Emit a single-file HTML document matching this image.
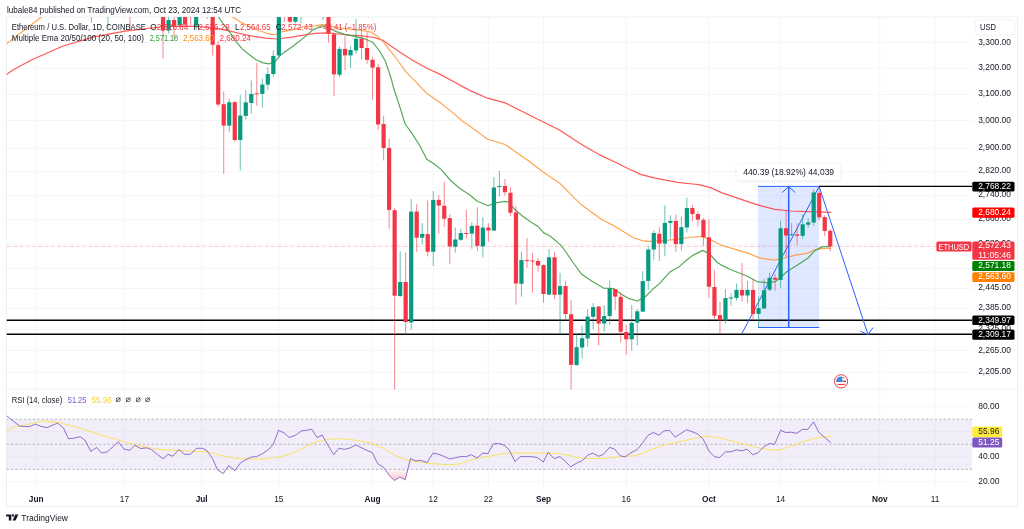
<!DOCTYPE html><html><head><meta charset="utf-8"><title>ETHUSD chart</title><style>html,body{margin:0;padding:0;background:#fff;width:1024px;height:529px;overflow:hidden;position:relative}</style></head><body><svg width="1024" height="529" viewBox="0 0 1024 529" style="position:absolute;left:0;top:0">
<defs>
<clipPath id="mainclip"><rect x="6.5" y="17.0" width="965.5" height="372.2"/></clipPath>
<clipPath id="rsiclip"><rect x="6.5" y="389.2" width="965.5" height="99.80000000000001"/></clipPath>
<linearGradient id="osg" gradientUnits="userSpaceOnUse" x1="0" y1="469.4" x2="0" y2="507"><stop offset="0" stop-color="#f23645" stop-opacity="0.05"/><stop offset="1" stop-color="#f23645" stop-opacity="0.8"/></linearGradient>
<filter id="sh" x="-10%" y="-30%" width="120%" height="170%"><feDropShadow dx="0" dy="0.5" stdDeviation="0.8" flood-color="#000" flood-opacity="0.18"/></filter>
</defs>
<text x="6.9" y="12.6" font-family="'Liberation Sans', Arial, sans-serif" font-size="8.6" textLength="234.2" lengthAdjust="spacingAndGlyphs" fill="#131722">lubale84 published on TradingView.com, Oct 23, 2024 12:54 UTC</text>
<rect x="6.5" y="17.0" width="1011.0" height="489.5" fill="#fff" stroke="#edeff2" stroke-width="1"/>
<line x1="6.5" y1="42.50" x2="972.0" y2="42.50" stroke="#f6f6f8" stroke-width="1"/>
<line x1="6.5" y1="68.50" x2="972.0" y2="68.50" stroke="#f6f6f8" stroke-width="1"/>
<line x1="6.5" y1="94.50" x2="972.0" y2="94.50" stroke="#f6f6f8" stroke-width="1"/>
<line x1="6.5" y1="120.50" x2="972.0" y2="120.50" stroke="#f6f6f8" stroke-width="1"/>
<line x1="6.5" y1="148.50" x2="972.0" y2="148.50" stroke="#f6f6f8" stroke-width="1"/>
<line x1="6.5" y1="171.50" x2="972.0" y2="171.50" stroke="#f6f6f8" stroke-width="1"/>
<line x1="6.5" y1="195.50" x2="972.0" y2="195.50" stroke="#f6f6f8" stroke-width="1"/>
<line x1="6.5" y1="219.50" x2="972.0" y2="219.50" stroke="#f6f6f8" stroke-width="1"/>
<line x1="6.5" y1="244.50" x2="972.0" y2="244.50" stroke="#f6f6f8" stroke-width="1"/>
<line x1="6.5" y1="268.50" x2="972.0" y2="268.50" stroke="#f6f6f8" stroke-width="1"/>
<line x1="6.5" y1="288.50" x2="972.0" y2="288.50" stroke="#f6f6f8" stroke-width="1"/>
<line x1="6.5" y1="308.50" x2="972.0" y2="308.50" stroke="#f6f6f8" stroke-width="1"/>
<line x1="6.5" y1="329.50" x2="972.0" y2="329.50" stroke="#f6f6f8" stroke-width="1"/>
<line x1="6.5" y1="350.50" x2="972.0" y2="350.50" stroke="#f6f6f8" stroke-width="1"/>
<line x1="6.5" y1="372.50" x2="972.0" y2="372.50" stroke="#f6f6f8" stroke-width="1"/>
<line x1="6.5" y1="406.65" x2="972.0" y2="406.65" stroke="#f6f6f8" stroke-width="1"/>
<line x1="6.5" y1="431.75" x2="972.0" y2="431.75" stroke="#f6f6f8" stroke-width="1"/>
<line x1="6.5" y1="456.85" x2="972.0" y2="456.85" stroke="#f6f6f8" stroke-width="1"/>
<line x1="6.5" y1="481.95" x2="972.0" y2="481.95" stroke="#f6f6f8" stroke-width="1"/>
<line x1="36.25" y1="17.0" x2="36.25" y2="489.0" stroke="#f6f6f8" stroke-width="1"/>
<line x1="124.47" y1="17.0" x2="124.47" y2="489.0" stroke="#f6f6f8" stroke-width="1"/>
<line x1="201.66" y1="17.0" x2="201.66" y2="489.0" stroke="#f6f6f8" stroke-width="1"/>
<line x1="278.86" y1="17.0" x2="278.86" y2="489.0" stroke="#f6f6f8" stroke-width="1"/>
<line x1="372.59" y1="17.0" x2="372.59" y2="489.0" stroke="#f6f6f8" stroke-width="1"/>
<line x1="433.24" y1="17.0" x2="433.24" y2="489.0" stroke="#f6f6f8" stroke-width="1"/>
<line x1="488.38" y1="17.0" x2="488.38" y2="489.0" stroke="#f6f6f8" stroke-width="1"/>
<line x1="543.52" y1="17.0" x2="543.52" y2="489.0" stroke="#f6f6f8" stroke-width="1"/>
<line x1="626.23" y1="17.0" x2="626.23" y2="489.0" stroke="#f6f6f8" stroke-width="1"/>
<line x1="708.93" y1="17.0" x2="708.93" y2="489.0" stroke="#f6f6f8" stroke-width="1"/>
<line x1="780.61" y1="17.0" x2="780.61" y2="489.0" stroke="#f6f6f8" stroke-width="1"/>
<line x1="879.86" y1="17.0" x2="879.86" y2="489.0" stroke="#f6f6f8" stroke-width="1"/>
<line x1="935.00" y1="17.0" x2="935.00" y2="489.0" stroke="#f6f6f8" stroke-width="1"/>
<line x1="6.5" y1="389.2" x2="1017.5" y2="389.2" stroke="#edeff2" stroke-width="1"/>
<g clip-path="url(#mainclip)">
<rect x="758" y="186.4" width="61.1" height="141.1" fill="#2962ff" fill-opacity="0.15"/>
<line x1="819" y1="186.4" x2="972" y2="186.4" stroke="#000" stroke-width="1.4"/>
<line x1="6.5" y1="320.2" x2="972" y2="320.2" stroke="#000" stroke-width="1.5"/>
<line x1="6.5" y1="334.2" x2="972" y2="334.2" stroke="#000" stroke-width="1.5"/>
<polyline points="6.2,74.8 12.5,70.2 31.3,60.0 62.5,46.3 93.8,36.9 125.0,31.1 160.0,27.0 171.7,26.4 183.4,26.1 195.2,26.4 206.9,27.3 218.6,28.7 230.3,31.1 242.0,34.0 253.8,36.3 265.5,38.1 277.2,39.0 291.7,37.2 303.4,35.2 315.2,33.4 326.9,32.8 338.6,34.0 350.3,35.2 362.0,35.8 373.8,37.5 383.1,40.4 391.3,46.3 400.0,52.2 412.2,60.0 426.8,68.2 439.7,74.1 453.8,81.7 465.5,88.1 470.0,90.6 487.6,98.2 505.2,102.9 516.9,108.8 540.3,120.5 559.1,129.8 575.5,140.4 585.0,146.4 599.1,154.6 614.3,161.7 629.5,169.3 641.3,174.6 655.3,178.1 677.6,182.3 692.8,184.0 698.7,184.7 710.4,187.6 722.1,192.9 736.2,197.6 751.4,202.9 763.1,206.4 774.8,209.3 791.0,211.0 808.6,211.6 830.9,212.4" fill="none" stroke="#ff3b3b" stroke-width="1.2" stroke-opacity="0.85" stroke-linejoin="round" stroke-linecap="round"/>
<polyline points="6.2,44.0 41.4,17.0 50.0,10.0" fill="none" stroke="#ff9a3c" stroke-width="1.2" stroke-opacity="0.9" stroke-linejoin="round" stroke-linecap="round"/>
<polyline points="228.0,10.0 232.7,17.0 242.0,22.9 253.8,28.7 265.5,32.8 272.5,34.6 277.2,34.0 280.0,32.2 291.7,29.9 303.4,27.0 315.2,25.8 322.2,24.6 329.2,25.8 340.9,28.1 352.7,29.3 362.0,30.5 371.4,32.2 377.3,36.3 383.1,41.6 391.3,52.2 397.5,60.0 405.7,71.7 415.1,81.1 426.8,93.4 439.7,102.2 451.4,111.6 463.1,121.5 470.0,126.3 487.6,139.2 505.2,144.5 515.7,152.0 527.4,160.0 542.7,171.7 560.0,183.5 570.5,194.1 581.1,204.6 591.6,212.2 602.2,219.8 612.7,225.1 623.3,231.6 633.8,238.0 644.4,241.2 653.4,241.3 665.2,240.4 676.9,239.3 688.6,237.5 701.7,236.4 712.3,240.5 721.6,245.2 736.9,249.9 748.6,253.4 760.3,258.1 774.4,260.2 783.8,258.1 795.5,255.2 806.9,253.4 815.1,249.8 822.1,248.7 830.3,248.1" fill="none" stroke="#ff9a3c" stroke-width="1.2" stroke-opacity="0.9" stroke-linejoin="round" stroke-linecap="round"/>
<polyline points="214.0,10.0 218.6,17.0 223.3,24.0 229.1,31.1 235.0,40.4 242.0,48.6 249.1,54.5 256.1,59.8 263.1,62.9 269.0,63.9 274.8,62.1 280.0,55.5 295.2,44.5 303.4,38.1 312.8,29.9 322.2,25.8 330.4,28.7 336.3,31.6 345.6,34.6 355.0,36.3 364.4,38.7 372.6,42.2 379.6,51.0 385.5,61.5 391.3,79.0 394.0,89.3 399.8,106.9 405.1,124.0 411.6,132.9 419.8,145.8 426.8,159.3 435.0,164.5 442.0,170.4 450.2,180.0 459.6,188.2 470.2,195.2 477.0,201.0 488.2,205.7 495.8,202.8 504.6,201.3 508.7,202.2 514.5,209.2 522.7,216.3 530.9,222.0 538.0,226.4 543.8,232.9 549.7,235.8 560.2,244.6 564.9,250.5 572.0,261.0 581.3,273.9 591.7,281.1 603.4,288.1 614.0,288.7 621.0,294.0 629.2,298.7 637.4,301.0 644.5,297.5 652.7,289.3 659.7,283.4 670.2,271.7 679.6,266.4 686.6,260.0 693.3,255.1 702.7,250.4 709.7,253.9 716.7,262.0 720.5,264.6 731.0,269.8 746.3,275.7 756.8,281.6 766.2,282.7 775.6,281.6 783.8,274.5 787.0,271.5 797.5,265.1 808.0,258.0 815.1,250.4 822.1,246.9 830.3,246.3" fill="none" stroke="#43a047" stroke-width="1.2" stroke-opacity="0.9" stroke-linejoin="round" stroke-linecap="round"/>
<line x1="758" y1="186.4" x2="819.1" y2="186.4" stroke="#2962ff" stroke-width="1"/>
<line x1="758" y1="327.5" x2="819.1" y2="327.5" stroke="#2962ff" stroke-width="1"/>
<line x1="788.7" y1="327.5" x2="788.7" y2="186.9" stroke="#2962ff" stroke-width="1.5"/>
<polyline points="782.2,192.6 788.7,186.6 795.3,192.6" fill="none" stroke="#2962ff" stroke-width="1"/>
<line x1="741.6" y1="334.2" x2="819.1" y2="186.4" stroke="#2962ff" stroke-width="1"/>
<line x1="819.1" y1="186.4" x2="868" y2="334.5" stroke="#2962ff" stroke-width="1"/>
<polyline points="860.5,331.2 868,334.6 873,327.6" fill="none" stroke="#2962ff" stroke-width="1"/>
<line x1="91.39" y1="0.0" x2="91.39" y2="22.8" stroke="#f23645" stroke-width="1" stroke-opacity="0.6"/>
<rect x="89.29" y="0.0" width="4.2" height="5.00" fill="#f23645"/>
<line x1="107.93" y1="0.0" x2="107.93" y2="27.5" stroke="#089981" stroke-width="1" stroke-opacity="0.6"/>
<rect x="105.83" y="0.0" width="4.2" height="5.00" fill="#089981"/>
<line x1="129.98" y1="0.0" x2="129.98" y2="27.9" stroke="#f23645" stroke-width="1" stroke-opacity="0.6"/>
<rect x="127.88" y="0.0" width="4.2" height="5.00" fill="#f23645"/>
<line x1="163.07" y1="0.0" x2="163.07" y2="58.7" stroke="#f23645" stroke-width="1" stroke-opacity="0.6"/>
<rect x="160.97" y="0.0" width="4.2" height="30.50" fill="#f23645"/>
<line x1="168.58" y1="0.0" x2="168.58" y2="33.4" stroke="#089981" stroke-width="1" stroke-opacity="0.6"/>
<rect x="166.48" y="20.0" width="4.2" height="10.50" fill="#089981"/>
<line x1="174.09" y1="0.0" x2="174.09" y2="39.0" stroke="#f23645" stroke-width="1" stroke-opacity="0.6"/>
<rect x="172.00" y="20.0" width="4.2" height="5.80" fill="#f23645"/>
<line x1="179.61" y1="0.0" x2="179.61" y2="27.7" stroke="#089981" stroke-width="1" stroke-opacity="0.6"/>
<rect x="177.51" y="0.0" width="4.2" height="25.30" fill="#089981"/>
<line x1="185.12" y1="0.0" x2="185.12" y2="25.5" stroke="#f23645" stroke-width="1" stroke-opacity="0.6"/>
<rect x="183.02" y="0.0" width="4.2" height="24.60" fill="#f23645"/>
<line x1="190.64" y1="0.0" x2="190.64" y2="25.0" stroke="#f23645" stroke-width="1" stroke-opacity="0.6"/>
<rect x="188.54" y="0.0" width="4.2" height="5.00" fill="#f23645"/>
<line x1="196.15" y1="0.0" x2="196.15" y2="30.2" stroke="#089981" stroke-width="1" stroke-opacity="0.6"/>
<rect x="194.05" y="0.0" width="4.2" height="25.50" fill="#089981"/>
<line x1="207.18" y1="0.0" x2="207.18" y2="18.8" stroke="#f23645" stroke-width="1" stroke-opacity="0.6"/>
<rect x="205.08" y="0.0" width="4.2" height="5.00" fill="#f23645"/>
<line x1="212.69" y1="0.0" x2="212.69" y2="55.5" stroke="#f23645" stroke-width="1" stroke-opacity="0.6"/>
<rect x="210.59" y="0.0" width="4.2" height="44.80" fill="#f23645"/>
<line x1="218.21" y1="41.0" x2="218.21" y2="106.5" stroke="#f23645" stroke-width="1" stroke-opacity="0.6"/>
<rect x="216.11" y="45.1" width="4.2" height="59.40" fill="#f23645"/>
<line x1="223.72" y1="91.3" x2="223.72" y2="173.9" stroke="#f23645" stroke-width="1" stroke-opacity="0.6"/>
<rect x="221.62" y="104.2" width="4.2" height="21.40" fill="#f23645"/>
<line x1="229.23" y1="98.5" x2="229.23" y2="132.3" stroke="#089981" stroke-width="1" stroke-opacity="0.6"/>
<rect x="227.13" y="102.3" width="4.2" height="23.30" fill="#089981"/>
<line x1="234.75" y1="100.7" x2="234.75" y2="141.7" stroke="#f23645" stroke-width="1" stroke-opacity="0.6"/>
<rect x="232.65" y="102.2" width="4.2" height="37.80" fill="#f23645"/>
<line x1="240.26" y1="94.8" x2="240.26" y2="170.4" stroke="#089981" stroke-width="1" stroke-opacity="0.6"/>
<rect x="238.16" y="115.6" width="4.2" height="24.40" fill="#089981"/>
<line x1="245.77" y1="90.1" x2="245.77" y2="119.4" stroke="#089981" stroke-width="1" stroke-opacity="0.6"/>
<rect x="243.67" y="102.4" width="4.2" height="13.50" fill="#089981"/>
<line x1="251.29" y1="80.5" x2="251.29" y2="113.9" stroke="#089981" stroke-width="1" stroke-opacity="0.6"/>
<rect x="249.19" y="93.9" width="4.2" height="9.10" fill="#089981"/>
<line x1="256.80" y1="62.9" x2="256.80" y2="105.7" stroke="#f23645" stroke-width="1" stroke-opacity="0.6"/>
<rect x="254.70" y="93.3" width="4.2" height="1.00" fill="#f23645"/>
<line x1="262.32" y1="78.7" x2="262.32" y2="107.7" stroke="#089981" stroke-width="1" stroke-opacity="0.6"/>
<rect x="260.22" y="84.6" width="4.2" height="9.30" fill="#089981"/>
<line x1="267.83" y1="67.3" x2="267.83" y2="89.8" stroke="#089981" stroke-width="1" stroke-opacity="0.6"/>
<rect x="265.73" y="74.0" width="4.2" height="10.60" fill="#089981"/>
<line x1="273.34" y1="50.2" x2="273.34" y2="76.8" stroke="#089981" stroke-width="1" stroke-opacity="0.6"/>
<rect x="271.24" y="55.9" width="4.2" height="18.10" fill="#089981"/>
<line x1="278.86" y1="0.0" x2="278.86" y2="58.4" stroke="#089981" stroke-width="1" stroke-opacity="0.6"/>
<rect x="276.76" y="0.0" width="4.2" height="55.50" fill="#089981"/>
<line x1="284.37" y1="0.0" x2="284.37" y2="22.3" stroke="#f23645" stroke-width="1" stroke-opacity="0.6"/>
<rect x="282.27" y="0.0" width="4.2" height="5.00" fill="#f23645"/>
<line x1="289.88" y1="0.0" x2="289.88" y2="23.0" stroke="#f23645" stroke-width="1" stroke-opacity="0.6"/>
<rect x="287.78" y="0.0" width="4.2" height="21.70" fill="#f23645"/>
<line x1="295.40" y1="0.0" x2="295.40" y2="23.4" stroke="#089981" stroke-width="1" stroke-opacity="0.6"/>
<rect x="293.30" y="0.0" width="4.2" height="21.70" fill="#089981"/>
<line x1="300.91" y1="0.0" x2="300.91" y2="23.4" stroke="#089981" stroke-width="1" stroke-opacity="0.6"/>
<rect x="298.81" y="0.0" width="4.2" height="5.00" fill="#089981"/>
<line x1="322.97" y1="0.0" x2="322.97" y2="20.0" stroke="#089981" stroke-width="1" stroke-opacity="0.6"/>
<rect x="320.87" y="0.0" width="4.2" height="5.00" fill="#089981"/>
<line x1="328.48" y1="0.0" x2="328.48" y2="42.5" stroke="#f23645" stroke-width="1" stroke-opacity="0.6"/>
<rect x="326.38" y="0.0" width="4.2" height="33.40" fill="#f23645"/>
<line x1="334.00" y1="33.0" x2="334.00" y2="96.0" stroke="#f23645" stroke-width="1" stroke-opacity="0.6"/>
<rect x="331.90" y="34.3" width="4.2" height="40.10" fill="#f23645"/>
<line x1="339.51" y1="46.3" x2="339.51" y2="77.0" stroke="#089981" stroke-width="1" stroke-opacity="0.6"/>
<rect x="337.41" y="48.9" width="4.2" height="25.80" fill="#089981"/>
<line x1="345.02" y1="35.8" x2="345.02" y2="70.0" stroke="#f23645" stroke-width="1" stroke-opacity="0.6"/>
<rect x="342.92" y="48.9" width="4.2" height="6.50" fill="#f23645"/>
<line x1="350.54" y1="46.3" x2="350.54" y2="68.0" stroke="#089981" stroke-width="1" stroke-opacity="0.6"/>
<rect x="348.44" y="50.0" width="4.2" height="5.40" fill="#089981"/>
<line x1="356.05" y1="19.1" x2="356.05" y2="53.6" stroke="#089981" stroke-width="1" stroke-opacity="0.6"/>
<rect x="353.95" y="38.7" width="4.2" height="11.70" fill="#089981"/>
<line x1="361.56" y1="29.3" x2="361.56" y2="59.4" stroke="#f23645" stroke-width="1" stroke-opacity="0.6"/>
<rect x="359.46" y="38.7" width="4.2" height="9.30" fill="#f23645"/>
<line x1="367.08" y1="32.2" x2="367.08" y2="63.9" stroke="#f23645" stroke-width="1" stroke-opacity="0.6"/>
<rect x="364.98" y="48.0" width="4.2" height="11.80" fill="#f23645"/>
<line x1="372.59" y1="57.4" x2="372.59" y2="99.8" stroke="#f23645" stroke-width="1" stroke-opacity="0.6"/>
<rect x="370.49" y="59.8" width="4.2" height="7.80" fill="#f23645"/>
<line x1="378.11" y1="64.1" x2="378.11" y2="130.0" stroke="#f23645" stroke-width="1" stroke-opacity="0.6"/>
<rect x="376.01" y="67.3" width="4.2" height="57.20" fill="#f23645"/>
<line x1="383.62" y1="116.0" x2="383.62" y2="160.4" stroke="#f23645" stroke-width="1" stroke-opacity="0.6"/>
<rect x="381.52" y="124.1" width="4.2" height="23.80" fill="#f23645"/>
<line x1="389.13" y1="139.0" x2="389.13" y2="228.6" stroke="#f23645" stroke-width="1" stroke-opacity="0.6"/>
<rect x="387.03" y="147.9" width="4.2" height="62.00" fill="#f23645"/>
<line x1="394.65" y1="207.9" x2="394.65" y2="389.8" stroke="#f23645" stroke-width="1" stroke-opacity="0.6"/>
<rect x="392.55" y="210.2" width="4.2" height="85.50" fill="#f23645"/>
<line x1="400.16" y1="251.1" x2="400.16" y2="297.0" stroke="#089981" stroke-width="1" stroke-opacity="0.6"/>
<rect x="398.06" y="282.0" width="4.2" height="14.00" fill="#089981"/>
<line x1="405.67" y1="252.3" x2="405.67" y2="334.6" stroke="#f23645" stroke-width="1" stroke-opacity="0.6"/>
<rect x="403.57" y="282.0" width="4.2" height="40.00" fill="#f23645"/>
<line x1="411.19" y1="199.0" x2="411.19" y2="329.9" stroke="#089981" stroke-width="1" stroke-opacity="0.6"/>
<rect x="409.09" y="211.6" width="4.2" height="110.90" fill="#089981"/>
<line x1="416.70" y1="204.0" x2="416.70" y2="251.7" stroke="#f23645" stroke-width="1" stroke-opacity="0.6"/>
<rect x="414.60" y="211.6" width="4.2" height="26.10" fill="#f23645"/>
<line x1="422.22" y1="223.1" x2="422.22" y2="244.7" stroke="#089981" stroke-width="1" stroke-opacity="0.6"/>
<rect x="420.12" y="233.9" width="4.2" height="3.80" fill="#089981"/>
<line x1="427.73" y1="200.5" x2="427.73" y2="256.4" stroke="#f23645" stroke-width="1" stroke-opacity="0.6"/>
<rect x="425.63" y="234.1" width="4.2" height="17.60" fill="#f23645"/>
<line x1="433.24" y1="191.1" x2="433.24" y2="266.0" stroke="#089981" stroke-width="1" stroke-opacity="0.6"/>
<rect x="431.14" y="199.9" width="4.2" height="51.80" fill="#089981"/>
<line x1="438.76" y1="195.0" x2="438.76" y2="233.7" stroke="#f23645" stroke-width="1" stroke-opacity="0.6"/>
<rect x="436.66" y="199.9" width="4.2" height="5.60" fill="#f23645"/>
<line x1="444.27" y1="181.8" x2="444.27" y2="226.9" stroke="#f23645" stroke-width="1" stroke-opacity="0.6"/>
<rect x="442.17" y="205.8" width="4.2" height="12.90" fill="#f23645"/>
<line x1="449.78" y1="214.2" x2="449.78" y2="264.0" stroke="#f23645" stroke-width="1" stroke-opacity="0.6"/>
<rect x="447.68" y="218.1" width="4.2" height="28.30" fill="#f23645"/>
<line x1="455.30" y1="227.5" x2="455.30" y2="252.7" stroke="#089981" stroke-width="1" stroke-opacity="0.6"/>
<rect x="453.20" y="239.5" width="4.2" height="7.30" fill="#089981"/>
<line x1="460.81" y1="228.6" x2="460.81" y2="241.0" stroke="#089981" stroke-width="1" stroke-opacity="0.6"/>
<rect x="458.71" y="233.0" width="4.2" height="6.80" fill="#089981"/>
<line x1="466.33" y1="209.9" x2="466.33" y2="238.6" stroke="#f23645" stroke-width="1" stroke-opacity="0.6"/>
<rect x="464.23" y="233.0" width="4.2" height="1.00" fill="#f23645"/>
<line x1="471.84" y1="222.2" x2="471.84" y2="248.7" stroke="#089981" stroke-width="1" stroke-opacity="0.6"/>
<rect x="469.74" y="225.9" width="4.2" height="7.70" fill="#089981"/>
<line x1="477.35" y1="207.3" x2="477.35" y2="251.5" stroke="#f23645" stroke-width="1" stroke-opacity="0.6"/>
<rect x="475.25" y="225.6" width="4.2" height="20.20" fill="#f23645"/>
<line x1="482.87" y1="217.2" x2="482.87" y2="257.5" stroke="#089981" stroke-width="1" stroke-opacity="0.6"/>
<rect x="480.77" y="227.6" width="4.2" height="18.80" fill="#089981"/>
<line x1="488.38" y1="223.3" x2="488.38" y2="241.7" stroke="#f23645" stroke-width="1" stroke-opacity="0.6"/>
<rect x="486.28" y="227.6" width="4.2" height="2.90" fill="#f23645"/>
<line x1="493.90" y1="177.0" x2="493.90" y2="231.0" stroke="#089981" stroke-width="1" stroke-opacity="0.6"/>
<rect x="491.80" y="187.5" width="4.2" height="43.00" fill="#089981"/>
<line x1="499.41" y1="170.8" x2="499.41" y2="196.6" stroke="#089981" stroke-width="1" stroke-opacity="0.6"/>
<rect x="497.31" y="186.0" width="4.2" height="1.00" fill="#089981"/>
<line x1="504.92" y1="179.0" x2="504.92" y2="195.7" stroke="#f23645" stroke-width="1" stroke-opacity="0.6"/>
<rect x="502.82" y="186.0" width="4.2" height="6.20" fill="#f23645"/>
<line x1="510.44" y1="187.2" x2="510.44" y2="216.3" stroke="#f23645" stroke-width="1" stroke-opacity="0.6"/>
<rect x="508.34" y="192.8" width="4.2" height="19.90" fill="#f23645"/>
<line x1="515.95" y1="206.3" x2="515.95" y2="304.6" stroke="#f23645" stroke-width="1" stroke-opacity="0.6"/>
<rect x="513.85" y="212.5" width="4.2" height="71.00" fill="#f23645"/>
<line x1="521.46" y1="251.6" x2="521.46" y2="296.7" stroke="#089981" stroke-width="1" stroke-opacity="0.6"/>
<rect x="519.36" y="260.1" width="4.2" height="23.70" fill="#089981"/>
<line x1="526.98" y1="238.2" x2="526.98" y2="268.0" stroke="#f23645" stroke-width="1" stroke-opacity="0.6"/>
<rect x="524.88" y="260.0" width="4.2" height="1.00" fill="#f23645"/>
<line x1="532.49" y1="253.0" x2="532.49" y2="292.5" stroke="#f23645" stroke-width="1" stroke-opacity="0.6"/>
<rect x="530.39" y="260.5" width="4.2" height="1.00" fill="#f23645"/>
<line x1="538.01" y1="258.1" x2="538.01" y2="271.7" stroke="#f23645" stroke-width="1" stroke-opacity="0.6"/>
<rect x="535.91" y="261.0" width="4.2" height="4.50" fill="#f23645"/>
<line x1="543.52" y1="264.5" x2="543.52" y2="302.8" stroke="#f23645" stroke-width="1" stroke-opacity="0.6"/>
<rect x="541.42" y="265.1" width="4.2" height="28.90" fill="#f23645"/>
<line x1="549.03" y1="249.1" x2="549.03" y2="295.0" stroke="#089981" stroke-width="1" stroke-opacity="0.6"/>
<rect x="546.93" y="257.3" width="4.2" height="37.30" fill="#089981"/>
<line x1="554.55" y1="251.9" x2="554.55" y2="299.3" stroke="#f23645" stroke-width="1" stroke-opacity="0.6"/>
<rect x="552.45" y="257.3" width="4.2" height="37.50" fill="#f23645"/>
<line x1="560.06" y1="272.9" x2="560.06" y2="334.6" stroke="#089981" stroke-width="1" stroke-opacity="0.6"/>
<rect x="557.96" y="286.1" width="4.2" height="8.50" fill="#089981"/>
<line x1="565.57" y1="280.8" x2="565.57" y2="320.4" stroke="#f23645" stroke-width="1" stroke-opacity="0.6"/>
<rect x="563.47" y="286.1" width="4.2" height="27.90" fill="#f23645"/>
<line x1="571.09" y1="299.9" x2="571.09" y2="389.8" stroke="#f23645" stroke-width="1" stroke-opacity="0.6"/>
<rect x="568.99" y="314.3" width="4.2" height="50.50" fill="#f23645"/>
<line x1="576.60" y1="334.1" x2="576.60" y2="365.5" stroke="#089981" stroke-width="1" stroke-opacity="0.6"/>
<rect x="574.50" y="347.2" width="4.2" height="17.90" fill="#089981"/>
<line x1="582.12" y1="325.6" x2="582.12" y2="358.7" stroke="#089981" stroke-width="1" stroke-opacity="0.6"/>
<rect x="580.02" y="338.2" width="4.2" height="9.30" fill="#089981"/>
<line x1="587.63" y1="309.2" x2="587.63" y2="346.7" stroke="#089981" stroke-width="1" stroke-opacity="0.6"/>
<rect x="585.53" y="316.6" width="4.2" height="21.90" fill="#089981"/>
<line x1="593.14" y1="303.1" x2="593.14" y2="329.4" stroke="#089981" stroke-width="1" stroke-opacity="0.6"/>
<rect x="591.04" y="307.1" width="4.2" height="9.70" fill="#089981"/>
<line x1="598.66" y1="306.0" x2="598.66" y2="345.5" stroke="#f23645" stroke-width="1" stroke-opacity="0.6"/>
<rect x="596.56" y="306.6" width="4.2" height="16.90" fill="#f23645"/>
<line x1="604.17" y1="305.1" x2="604.17" y2="331.7" stroke="#089981" stroke-width="1" stroke-opacity="0.6"/>
<rect x="602.07" y="316.0" width="4.2" height="7.50" fill="#089981"/>
<line x1="609.69" y1="280.5" x2="609.69" y2="324.7" stroke="#089981" stroke-width="1" stroke-opacity="0.6"/>
<rect x="607.59" y="288.7" width="4.2" height="27.30" fill="#089981"/>
<line x1="615.20" y1="289.0" x2="615.20" y2="309.8" stroke="#f23645" stroke-width="1" stroke-opacity="0.6"/>
<rect x="613.10" y="289.1" width="4.2" height="7.50" fill="#f23645"/>
<line x1="620.71" y1="292.8" x2="620.71" y2="342.5" stroke="#f23645" stroke-width="1" stroke-opacity="0.6"/>
<rect x="618.61" y="296.9" width="4.2" height="34.80" fill="#f23645"/>
<line x1="626.23" y1="324.9" x2="626.23" y2="354.6" stroke="#f23645" stroke-width="1" stroke-opacity="0.6"/>
<rect x="624.13" y="332.0" width="4.2" height="7.30" fill="#f23645"/>
<line x1="631.74" y1="305.1" x2="631.74" y2="350.7" stroke="#089981" stroke-width="1" stroke-opacity="0.6"/>
<rect x="629.64" y="322.9" width="4.2" height="16.40" fill="#089981"/>
<line x1="637.25" y1="309.0" x2="637.25" y2="345.5" stroke="#089981" stroke-width="1" stroke-opacity="0.6"/>
<rect x="635.15" y="311.3" width="4.2" height="11.30" fill="#089981"/>
<line x1="642.77" y1="271.1" x2="642.77" y2="312.0" stroke="#089981" stroke-width="1" stroke-opacity="0.6"/>
<rect x="640.67" y="281.1" width="4.2" height="30.50" fill="#089981"/>
<line x1="648.28" y1="245.9" x2="648.28" y2="289.9" stroke="#089981" stroke-width="1" stroke-opacity="0.6"/>
<rect x="646.18" y="249.5" width="4.2" height="31.40" fill="#089981"/>
<line x1="653.80" y1="230.2" x2="653.80" y2="260.0" stroke="#089981" stroke-width="1" stroke-opacity="0.6"/>
<rect x="651.70" y="233.0" width="4.2" height="16.50" fill="#089981"/>
<line x1="659.31" y1="227.2" x2="659.31" y2="260.9" stroke="#f23645" stroke-width="1" stroke-opacity="0.6"/>
<rect x="657.21" y="233.8" width="4.2" height="9.80" fill="#f23645"/>
<line x1="664.82" y1="205.3" x2="664.82" y2="256.3" stroke="#089981" stroke-width="1" stroke-opacity="0.6"/>
<rect x="662.72" y="222.9" width="4.2" height="20.70" fill="#089981"/>
<line x1="670.34" y1="215.2" x2="670.34" y2="239.3" stroke="#089981" stroke-width="1" stroke-opacity="0.6"/>
<rect x="668.24" y="220.9" width="4.2" height="2.00" fill="#089981"/>
<line x1="675.85" y1="214.3" x2="675.85" y2="251.6" stroke="#f23645" stroke-width="1" stroke-opacity="0.6"/>
<rect x="673.75" y="220.9" width="4.2" height="23.10" fill="#f23645"/>
<line x1="681.36" y1="216.4" x2="681.36" y2="250.4" stroke="#089981" stroke-width="1" stroke-opacity="0.6"/>
<rect x="679.26" y="227.2" width="4.2" height="16.80" fill="#089981"/>
<line x1="686.88" y1="197.6" x2="686.88" y2="232.6" stroke="#089981" stroke-width="1" stroke-opacity="0.6"/>
<rect x="684.78" y="208.0" width="4.2" height="19.50" fill="#089981"/>
<line x1="692.39" y1="204.9" x2="692.39" y2="221.7" stroke="#f23645" stroke-width="1" stroke-opacity="0.6"/>
<rect x="690.29" y="208.0" width="4.2" height="6.10" fill="#f23645"/>
<line x1="697.91" y1="211.7" x2="697.91" y2="226.7" stroke="#f23645" stroke-width="1" stroke-opacity="0.6"/>
<rect x="695.81" y="214.1" width="4.2" height="5.60" fill="#f23645"/>
<line x1="703.42" y1="217.8" x2="703.42" y2="245.7" stroke="#f23645" stroke-width="1" stroke-opacity="0.6"/>
<rect x="701.32" y="219.9" width="4.2" height="17.30" fill="#f23645"/>
<line x1="708.93" y1="219.2" x2="708.93" y2="297.9" stroke="#f23645" stroke-width="1" stroke-opacity="0.6"/>
<rect x="706.83" y="237.3" width="4.2" height="49.40" fill="#f23645"/>
<line x1="714.45" y1="270.1" x2="714.45" y2="319.2" stroke="#f23645" stroke-width="1" stroke-opacity="0.6"/>
<rect x="712.35" y="287.0" width="4.2" height="28.70" fill="#f23645"/>
<line x1="719.96" y1="301.9" x2="719.96" y2="334.2" stroke="#f23645" stroke-width="1" stroke-opacity="0.6"/>
<rect x="717.86" y="315.1" width="4.2" height="5.10" fill="#f23645"/>
<line x1="725.48" y1="289.0" x2="725.48" y2="323.7" stroke="#089981" stroke-width="1" stroke-opacity="0.6"/>
<rect x="723.38" y="298.1" width="4.2" height="22.30" fill="#089981"/>
<line x1="730.99" y1="293.2" x2="730.99" y2="305.7" stroke="#089981" stroke-width="1" stroke-opacity="0.6"/>
<rect x="728.89" y="297.5" width="4.2" height="1.00" fill="#089981"/>
<line x1="736.50" y1="283.5" x2="736.50" y2="300.7" stroke="#089981" stroke-width="1" stroke-opacity="0.6"/>
<rect x="734.40" y="289.9" width="4.2" height="8.00" fill="#089981"/>
<line x1="742.02" y1="263.0" x2="742.02" y2="301.6" stroke="#f23645" stroke-width="1" stroke-opacity="0.6"/>
<rect x="739.92" y="289.9" width="4.2" height="5.60" fill="#f23645"/>
<line x1="747.53" y1="281.0" x2="747.53" y2="302.8" stroke="#089981" stroke-width="1" stroke-opacity="0.6"/>
<rect x="745.43" y="289.9" width="4.2" height="5.60" fill="#089981"/>
<line x1="753.04" y1="279.0" x2="753.04" y2="319.8" stroke="#f23645" stroke-width="1" stroke-opacity="0.6"/>
<rect x="750.94" y="289.9" width="4.2" height="24.00" fill="#f23645"/>
<line x1="758.56" y1="296.7" x2="758.56" y2="327.4" stroke="#089981" stroke-width="1" stroke-opacity="0.6"/>
<rect x="756.46" y="308.1" width="4.2" height="5.80" fill="#089981"/>
<line x1="764.07" y1="279.0" x2="764.07" y2="309.3" stroke="#089981" stroke-width="1" stroke-opacity="0.6"/>
<rect x="761.97" y="290.2" width="4.2" height="18.20" fill="#089981"/>
<line x1="769.59" y1="272.8" x2="769.59" y2="291.3" stroke="#089981" stroke-width="1" stroke-opacity="0.6"/>
<rect x="767.49" y="277.8" width="4.2" height="11.90" fill="#089981"/>
<line x1="775.10" y1="274.0" x2="775.10" y2="290.5" stroke="#f23645" stroke-width="1" stroke-opacity="0.6"/>
<rect x="773.00" y="277.8" width="4.2" height="1.90" fill="#f23645"/>
<line x1="780.61" y1="221.1" x2="780.61" y2="287.6" stroke="#089981" stroke-width="1" stroke-opacity="0.6"/>
<rect x="778.51" y="228.2" width="4.2" height="51.70" fill="#089981"/>
<line x1="786.13" y1="210.4" x2="786.13" y2="256.9" stroke="#f23645" stroke-width="1" stroke-opacity="0.6"/>
<rect x="784.03" y="228.2" width="4.2" height="7.30" fill="#f23645"/>
<line x1="791.64" y1="223.1" x2="791.64" y2="236.0" stroke="#089981" stroke-width="1" stroke-opacity="0.6"/>
<rect x="789.54" y="234.3" width="4.2" height="1.00" fill="#089981"/>
<line x1="797.15" y1="223.1" x2="797.15" y2="244.9" stroke="#f23645" stroke-width="1" stroke-opacity="0.6"/>
<rect x="795.05" y="234.4" width="4.2" height="1.40" fill="#f23645"/>
<line x1="802.67" y1="214.5" x2="802.67" y2="238.6" stroke="#089981" stroke-width="1" stroke-opacity="0.6"/>
<rect x="800.57" y="224.3" width="4.2" height="11.50" fill="#089981"/>
<line x1="808.18" y1="218.1" x2="808.18" y2="227.6" stroke="#089981" stroke-width="1" stroke-opacity="0.6"/>
<rect x="806.08" y="222.4" width="4.2" height="2.30" fill="#089981"/>
<line x1="813.70" y1="189.3" x2="813.70" y2="226.0" stroke="#089981" stroke-width="1" stroke-opacity="0.6"/>
<rect x="811.60" y="192.5" width="4.2" height="30.00" fill="#089981"/>
<line x1="819.21" y1="186.4" x2="819.21" y2="220.4" stroke="#f23645" stroke-width="1" stroke-opacity="0.6"/>
<rect x="817.11" y="192.9" width="4.2" height="24.50" fill="#f23645"/>
<line x1="824.72" y1="215.2" x2="824.72" y2="236.0" stroke="#f23645" stroke-width="1" stroke-opacity="0.6"/>
<rect x="822.62" y="217.1" width="4.2" height="13.80" fill="#f23645"/>
<line x1="830.24" y1="229.3" x2="830.24" y2="251.3" stroke="#f23645" stroke-width="1" stroke-opacity="0.6"/>
<rect x="828.14" y="230.8" width="4.2" height="15.50" fill="#f23645"/>
<line x1="6.5" y1="246.3" x2="972.0" y2="246.3" stroke="#f23645" stroke-width="0.7" stroke-dasharray="4.5 1.8" stroke-opacity="0.35"/>
</g>
<text x="11.8" y="30.0" font-family="'Liberation Sans', Arial, sans-serif" font-size="8.2" fill="#131722" textLength="134.1" lengthAdjust="spacingAndGlyphs">Ethereum / U.S. Dollar, 1D, COINBASE</text>
<text x="150.3" y="30.0" font-family="'Liberation Sans', Arial, sans-serif" font-size="8.2" fill="#131722">O</text>
<text x="156.8" y="30.0" font-family="'Liberation Sans', Arial, sans-serif" font-size="8.2" fill="#f23645" textLength="31.5" lengthAdjust="spacingAndGlyphs">2,626.84</text>
<text x="193.4" y="30.0" font-family="'Liberation Sans', Arial, sans-serif" font-size="8.2" fill="#131722">H</text>
<text x="198.4" y="30.0" font-family="'Liberation Sans', Arial, sans-serif" font-size="8.2" fill="#f23645" textLength="31.2" lengthAdjust="spacingAndGlyphs">2,636.29</text>
<text x="235.0" y="30.0" font-family="'Liberation Sans', Arial, sans-serif" font-size="8.2" fill="#131722">L</text>
<text x="240.0" y="30.0" font-family="'Liberation Sans', Arial, sans-serif" font-size="8.2" fill="#f23645" textLength="30.5" lengthAdjust="spacingAndGlyphs">2,564.65</text>
<text x="275.8" y="30.0" font-family="'Liberation Sans', Arial, sans-serif" font-size="8.2" fill="#131722">C</text>
<text x="281.1" y="30.0" font-family="'Liberation Sans', Arial, sans-serif" font-size="8.2" fill="#f23645" textLength="31.7" lengthAdjust="spacingAndGlyphs">2,572.43</text>
<text x="318.6" y="30.0" font-family="'Liberation Sans', Arial, sans-serif" font-size="8.2" fill="#f23645" textLength="57.7" lengthAdjust="spacingAndGlyphs">−48.41 (−1.85%)</text>
<text x="11.8" y="40.6" font-family="'Liberation Sans', Arial, sans-serif" font-size="8.2" fill="#131722" textLength="132.1" lengthAdjust="spacingAndGlyphs">Multiple Ema 20/50/100 (20, 50, 100)</text>
<text x="149.8" y="40.6" font-family="'Liberation Sans', Arial, sans-serif" font-size="8.2" fill="#2e9e3a" textLength="28.3" lengthAdjust="spacingAndGlyphs">2,571.18</text>
<text x="183.0" y="40.6" font-family="'Liberation Sans', Arial, sans-serif" font-size="8.2" fill="#ff8c1a" textLength="31.2" lengthAdjust="spacingAndGlyphs">2,563.60</text>
<text x="219.6" y="40.6" font-family="'Liberation Sans', Arial, sans-serif" font-size="8.2" fill="#f23645" textLength="31.3" lengthAdjust="spacingAndGlyphs">2,680.24</text>
<rect x="736.7" y="163.8" width="103.4" height="16.4" rx="3" fill="#fff" filter="url(#sh)"/>
<text x="743.2" y="175.0" font-family="'Liberation Sans', Arial, sans-serif" font-size="8.48" fill="#131722">440.39 (18.92%) 44,039</text>
<circle cx="841.1" cy="381.3" r="6.6" fill="#fff" stroke="#f23645" stroke-width="1"/>
<clipPath id="fc"><circle cx="841.1" cy="381.3" r="4.9"/></clipPath>
<g clip-path="url(#fc)">
<rect x="842.3" y="377.2" width="5" height="1.0" fill="#f23645"/>
<rect x="842.3" y="380.6" width="5" height="1.4" fill="#f23645"/>
<rect x="836" y="383.9" width="11" height="1.2" fill="#f23645"/>
<rect x="836" y="376" width="6.3" height="6" fill="#3d8be0"/>
</g>
<g clip-path="url(#rsiclip)">
<rect x="6.5" y="419.20" width="965.5" height="50.20" fill="#7e57c2" fill-opacity="0.1"/>
<line x1="6.5" y1="419.20" x2="972.0" y2="419.20" stroke="#787b86" stroke-width="0.8" stroke-dasharray="2.2 2.2" stroke-opacity="0.65"/>
<line x1="6.5" y1="444.30" x2="972.0" y2="444.30" stroke="#787b86" stroke-width="0.8" stroke-dasharray="2.2 2.2" stroke-opacity="0.65"/>
<line x1="6.5" y1="469.40" x2="972.0" y2="469.40" stroke="#787b86" stroke-width="0.8" stroke-dasharray="2.2 2.2" stroke-opacity="0.65"/>
<polygon points="217.3,469.4 217.5,469.9 223.3,473.6 226.1,469.4" fill="url(#osg)"/>
<polygon points="233.4,469.4 235.0,470.7 235.9,469.4" fill="url(#osg)"/>
<polygon points="385.0,469.4 390.0,476.2 394.3,480.5 399.8,477.1 405.2,479.7 407.8,469.4" fill="url(#osg)"/>
<polyline points="6.2,431.5 13.7,427.0 25.4,425.0 39.0,421.7 44.9,421.1 58.6,422.5 78.1,427.6 97.7,433.8 117.2,439.7 136.7,445.2 156.3,449.1 175.8,450.4 195.0,451.2 206.7,451.8 218.4,454.7 234.1,458.2 249.7,459.0 265.3,459.0 281.0,456.6 292.7,453.1 304.4,447.3 316.1,442.0 327.8,439.1 343.4,438.7 357.1,440.4 370.8,443.0 382.5,447.9 390.0,452.3 399.8,457.6 409.5,460.5 419.3,462.1 429.1,463.5 448.6,464.8 458.4,464.1 468.1,460.9 477.9,458.2 487.7,456.6 497.4,454.7 507.2,453.1 526.7,453.1 546.2,453.1 559.9,453.7 569.7,455.7 581.4,458.2 590.0,458.6 604.5,458.2 624.1,456.3 635.8,455.7 643.6,452.7 663.1,445.3 682.7,441.0 698.3,437.5 706.1,436.1 717.8,437.5 733.4,441.4 749.1,445.3 760.8,448.4 766.2,449.2 775.1,450.2 780.8,449.5 791.2,446.1 801.6,442.4 812.0,439.1 822.4,437.0 830.7,436.2" fill="none" stroke="#fadf4a" stroke-width="1.0" stroke-opacity="0.85" stroke-linejoin="round" stroke-linecap="round"/>
<polyline points="6.8,415.9 19.5,426.0 25.4,426.6 30.3,426.4 35.2,424.1 41.0,426.4 46.9,427.6 57.6,423.1 63.5,428.0 68.4,438.7 74.2,438.1 80.1,436.8 85.0,440.1 90.8,451.4 96.7,447.5 101.6,453.0 107.4,451.8 113.3,446.5 118.2,441.6 124.0,449.1 129.9,450.4 134.8,445.2 140.6,448.5 146.5,447.9 151.4,449.5 157.2,454.3 163.1,458.8 168.0,454.3 172.9,456.3 178.7,449.5 184.6,454.3 190.4,454.3 196.3,448.5 198.9,448.2 202.8,448.4 206.7,450.4 212.6,458.6 217.5,469.9 223.3,473.6 228.6,465.6 235.0,470.7 240.3,463.1 245.8,459.6 251.6,457.0 256.5,456.6 262.4,453.7 268.2,449.8 273.1,444.5 278.6,430.3 283.9,432.8 289.3,437.5 295.6,435.2 301.4,430.9 306.3,430.3 311.8,429.3 317.1,437.5 322.3,435.2 327.8,444.9 333.7,454.7 339.0,448.2 344.4,449.4 350.3,447.9 355.7,444.9 361.0,447.5 366.9,450.4 372.3,452.7 377.6,463.5 383.5,467.4 390.0,476.2 394.3,480.5 399.8,477.1 405.2,479.7 410.5,458.6 415.4,460.9 421.3,460.5 427.1,462.5 433.0,453.1 438.8,454.3 443.7,456.3 449.6,459.0 454.5,458.0 460.3,456.6 466.2,456.6 471.1,454.7 476.9,458.0 482.8,453.1 487.7,453.7 493.5,443.9 498.4,443.4 504.3,445.3 509.1,449.8 515.0,461.5 520.5,456.6 525.7,456.6 531.6,456.6 537.5,457.6 543.3,462.1 548.2,452.3 554.1,458.6 559.9,456.6 565.4,461.5 570.7,466.8 577.1,462.9 582.4,460.5 587.9,455.1 592.8,453.1 598.3,456.3 603.6,454.3 609.4,447.5 614.3,448.8 620.2,455.7 625.0,457.0 630.9,452.7 636.8,449.8 642.6,443.0 647.9,435.5 653.4,432.4 658.8,435.2 664.1,430.9 669.4,430.3 675.2,437.1 680.7,433.6 686.6,429.7 692.0,431.6 697.9,434.2 703.2,439.1 709.0,451.2 714.3,456.6 719.4,457.6 725.6,451.8 731.1,451.8 736.4,449.8 741.6,450.8 747.1,449.2 752.6,454.7 757.9,452.7 763.7,446.9 769.4,443.5 774.6,444.3 780.8,430.2 785.5,432.5 791.2,432.2 796.6,433.3 802.6,429.4 807.8,429.4 813.5,421.8 818.7,432.2 824.4,437.2 830.5,442.4" fill="none" stroke="#7e57c2" stroke-width="1.0" stroke-opacity="0.85" stroke-linejoin="round" stroke-linecap="round"/>
</g>
<text x="11.7" y="402.5" font-family="'Liberation Sans', Arial, sans-serif" font-size="8.2" fill="#131722" textLength="50.5" lengthAdjust="spacingAndGlyphs">RSI (14, close)</text>
<text x="67.8" y="402.5" font-family="'Liberation Sans', Arial, sans-serif" font-size="8.2" fill="#7e57c2" textLength="18.6" lengthAdjust="spacingAndGlyphs">51.25</text>
<text x="91.5" y="402.5" font-family="'Liberation Sans', Arial, sans-serif" font-size="8.2" fill="#f5d538" textLength="20.2" lengthAdjust="spacingAndGlyphs">55.96</text>
<text x="115.6" y="402.3" font-family="DejaVu Sans, sans-serif" font-size="9" fill="#131722">⌀</text>
<text x="125.6" y="402.3" font-family="DejaVu Sans, sans-serif" font-size="9" fill="#131722">⌀</text>
<text x="135.4" y="402.3" font-family="DejaVu Sans, sans-serif" font-size="9" fill="#131722">⌀</text>
<text x="144.9" y="402.3" font-family="DejaVu Sans, sans-serif" font-size="9" fill="#131722">⌀</text>
<text x="978.2" y="44.80" font-family="'Liberation Sans', Arial, sans-serif" font-size="8.7" fill="#131722" textLength="32.8" lengthAdjust="spacingAndGlyphs">3,300.00</text>
<text x="978.2" y="69.96" font-family="'Liberation Sans', Arial, sans-serif" font-size="8.7" fill="#131722" textLength="32.8" lengthAdjust="spacingAndGlyphs">3,200.00</text>
<text x="978.2" y="95.92" font-family="'Liberation Sans', Arial, sans-serif" font-size="8.7" fill="#131722" textLength="32.8" lengthAdjust="spacingAndGlyphs">3,100.00</text>
<text x="978.2" y="122.74" font-family="'Liberation Sans', Arial, sans-serif" font-size="8.7" fill="#131722" textLength="32.8" lengthAdjust="spacingAndGlyphs">3,000.00</text>
<text x="978.2" y="150.46" font-family="'Liberation Sans', Arial, sans-serif" font-size="8.7" fill="#131722" textLength="32.8" lengthAdjust="spacingAndGlyphs">2,900.00</text>
<text x="978.2" y="173.33" font-family="'Liberation Sans', Arial, sans-serif" font-size="8.7" fill="#131722" textLength="32.8" lengthAdjust="spacingAndGlyphs">2,820.00</text>
<text x="978.2" y="196.86" font-family="'Liberation Sans', Arial, sans-serif" font-size="8.7" fill="#131722" textLength="32.8" lengthAdjust="spacingAndGlyphs">2,740.00</text>
<text x="978.2" y="221.09" font-family="'Liberation Sans', Arial, sans-serif" font-size="8.7" fill="#131722" textLength="32.8" lengthAdjust="spacingAndGlyphs">2,660.00</text>
<text x="978.2" y="246.06" font-family="'Liberation Sans', Arial, sans-serif" font-size="8.7" fill="#131722" textLength="32.8" lengthAdjust="spacingAndGlyphs">2,580.00</text>
<text x="978.2" y="270.19" font-family="'Liberation Sans', Arial, sans-serif" font-size="8.7" fill="#131722" textLength="32.8" lengthAdjust="spacingAndGlyphs">2,505.00</text>
<text x="978.2" y="290.01" font-family="'Liberation Sans', Arial, sans-serif" font-size="8.7" fill="#131722" textLength="32.8" lengthAdjust="spacingAndGlyphs">2,445.00</text>
<text x="978.2" y="310.33" font-family="'Liberation Sans', Arial, sans-serif" font-size="8.7" fill="#131722" textLength="32.8" lengthAdjust="spacingAndGlyphs">2,385.00</text>
<text x="978.2" y="331.16" font-family="'Liberation Sans', Arial, sans-serif" font-size="8.7" fill="#131722" textLength="32.8" lengthAdjust="spacingAndGlyphs">2,325.00</text>
<text x="978.2" y="352.54" font-family="'Liberation Sans', Arial, sans-serif" font-size="8.7" fill="#131722" textLength="32.8" lengthAdjust="spacingAndGlyphs">2,265.00</text>
<text x="978.2" y="374.49" font-family="'Liberation Sans', Arial, sans-serif" font-size="8.7" fill="#131722" textLength="32.8" lengthAdjust="spacingAndGlyphs">2,205.00</text>
<text x="978.2" y="408.95" font-family="'Liberation Sans', Arial, sans-serif" font-size="8.7" fill="#131722" textLength="21.2" lengthAdjust="spacingAndGlyphs">80.00</text>
<text x="978.2" y="459.15" font-family="'Liberation Sans', Arial, sans-serif" font-size="8.7" fill="#131722" textLength="21.2" lengthAdjust="spacingAndGlyphs">40.00</text>
<text x="978.2" y="484.25" font-family="'Liberation Sans', Arial, sans-serif" font-size="8.7" fill="#131722" textLength="21.2" lengthAdjust="spacingAndGlyphs">20.00</text>
<rect x="975.3" y="19.9" width="39.6" height="15.2" rx="2.5" fill="#fff" stroke="#edeff2" stroke-width="0.8"/>
<text x="980" y="30.4" font-family="'Liberation Sans', Arial, sans-serif" font-size="8.2" textLength="15.8" lengthAdjust="spacingAndGlyphs" fill="#131722">USD</text>
<rect x="972.3" y="181.8" width="42.20" height="9.80" rx="1.5" fill="#000"/>
<text x="978.2" y="189.00" font-family="'Liberation Sans', Arial, sans-serif" font-size="8.7" fill="#fff" textLength="32.8" lengthAdjust="spacingAndGlyphs">2,768.22</text>
<rect x="972.3" y="207.5" width="42.20" height="10.20" rx="1.5" fill="#ff0000"/>
<text x="978.2" y="214.90" font-family="'Liberation Sans', Arial, sans-serif" font-size="8.7" fill="#fff" textLength="32.8" lengthAdjust="spacingAndGlyphs">2,680.24</text>
<rect x="936.4" y="241.6" width="35.2" height="9.8" rx="1.5" fill="#f23645"/>
<text x="938.6" y="249.5" font-family="'Liberation Sans', Arial, sans-serif" font-size="8.2" textLength="30.5" lengthAdjust="spacingAndGlyphs" fill="#fff">ETHUSD</text>
<rect x="972.3" y="241.6" width="42.20" height="18.20" rx="1.5" fill="#f23645"/>
<text x="978.2" y="248.45" font-family="'Liberation Sans', Arial, sans-serif" font-size="8.7" fill="#fff" textLength="32.8" lengthAdjust="spacingAndGlyphs">2,572.43</text>
<text x="978.2" y="257.55" font-family="'Liberation Sans', Arial, sans-serif" font-size="8.7" fill="#fff" textLength="32.8" lengthAdjust="spacingAndGlyphs">11:05:46</text>
<rect x="972.3" y="260.9" width="42.20" height="10.20" rx="1.5" fill="#008000"/>
<text x="978.2" y="268.30" font-family="'Liberation Sans', Arial, sans-serif" font-size="8.7" fill="#fff" textLength="32.8" lengthAdjust="spacingAndGlyphs">2,571.18</text>
<rect x="972.3" y="272.3" width="42.20" height="9.70" rx="1.5" fill="#ff8000"/>
<text x="978.2" y="279.45" font-family="'Liberation Sans', Arial, sans-serif" font-size="8.7" fill="#fff" textLength="32.8" lengthAdjust="spacingAndGlyphs">2,563.60</text>
<rect x="972.3" y="315.4" width="42.20" height="9.60" rx="1.5" fill="#000"/>
<text x="978.2" y="322.50" font-family="'Liberation Sans', Arial, sans-serif" font-size="8.7" fill="#fff" textLength="32.8" lengthAdjust="spacingAndGlyphs">2,349.97</text>
<rect x="972.3" y="329.5" width="42.20" height="10.20" rx="1.5" fill="#000"/>
<text x="978.2" y="336.90" font-family="'Liberation Sans', Arial, sans-serif" font-size="8.7" fill="#fff" textLength="32.8" lengthAdjust="spacingAndGlyphs">2,309.17</text>
<rect x="972.3" y="426.4" width="29.90" height="10.80" rx="1.5" fill="#ffeb3b"/>
<text x="978.2" y="434.10" font-family="'Liberation Sans', Arial, sans-serif" font-size="8.7" fill="#131722" textLength="21.2" lengthAdjust="spacingAndGlyphs">55.96</text>
<rect x="972.3" y="437.6" width="29.90" height="10.00" rx="1.5" fill="#7e57c2"/>
<text x="978.2" y="444.90" font-family="'Liberation Sans', Arial, sans-serif" font-size="8.7" fill="#fff" textLength="21.2" lengthAdjust="spacingAndGlyphs">51.25</text>
<text x="36.25" y="501.6" text-anchor="middle" font-family="'Liberation Sans', Arial, sans-serif" font-size="8.3" font-weight="bold" fill="#131722">Jun</text>
<text x="124.47" y="501.6" text-anchor="middle" font-family="'Liberation Sans', Arial, sans-serif" font-size="8.3" fill="#131722">17</text>
<text x="201.66" y="501.6" text-anchor="middle" font-family="'Liberation Sans', Arial, sans-serif" font-size="8.3" font-weight="bold" fill="#131722">Jul</text>
<text x="278.86" y="501.6" text-anchor="middle" font-family="'Liberation Sans', Arial, sans-serif" font-size="8.3" fill="#131722">15</text>
<text x="372.59" y="501.6" text-anchor="middle" font-family="'Liberation Sans', Arial, sans-serif" font-size="8.3" font-weight="bold" fill="#131722">Aug</text>
<text x="433.24" y="501.6" text-anchor="middle" font-family="'Liberation Sans', Arial, sans-serif" font-size="8.3" fill="#131722">12</text>
<text x="488.38" y="501.6" text-anchor="middle" font-family="'Liberation Sans', Arial, sans-serif" font-size="8.3" fill="#131722">22</text>
<text x="543.52" y="501.6" text-anchor="middle" font-family="'Liberation Sans', Arial, sans-serif" font-size="8.3" font-weight="bold" fill="#131722">Sep</text>
<text x="626.23" y="501.6" text-anchor="middle" font-family="'Liberation Sans', Arial, sans-serif" font-size="8.3" fill="#131722">16</text>
<text x="708.93" y="501.6" text-anchor="middle" font-family="'Liberation Sans', Arial, sans-serif" font-size="8.3" font-weight="bold" fill="#131722">Oct</text>
<text x="780.61" y="501.6" text-anchor="middle" font-family="'Liberation Sans', Arial, sans-serif" font-size="8.3" fill="#131722">14</text>
<text x="879.86" y="501.6" text-anchor="middle" font-family="'Liberation Sans', Arial, sans-serif" font-size="8.3" font-weight="bold" fill="#131722">Nov</text>
<text x="935.00" y="501.6" text-anchor="middle" font-family="'Liberation Sans', Arial, sans-serif" font-size="8.3" fill="#131722">11</text>
<g fill="#131722"><path d="M6.1,514.4 H11.3 V520.4 H8.8 V516.5 H6.1 Z"/><circle cx="12.9" cy="515.5" r="1.15"/><path d="M15.2,514.4 H18.3 L15.6,520.4 H12.6 Z"/></g>
<text x="21.3" y="521.1" font-family="'Liberation Sans', Arial, sans-serif" font-size="8.49" fill="#131722">TradingView</text>
</svg></body></html>
